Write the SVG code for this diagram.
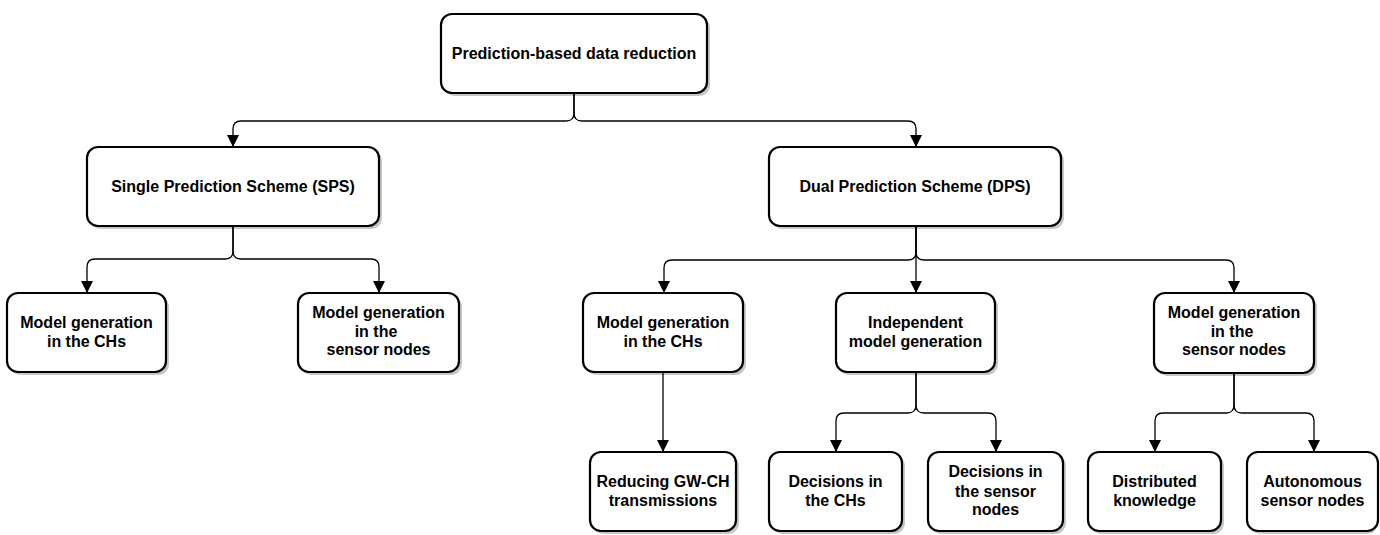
<svg xmlns="http://www.w3.org/2000/svg" width="1380" height="535" viewBox="0 0 1380 535">
<style>
.box{fill:#fff;stroke:#000;stroke-width:2.2}
.sh{fill:#000;opacity:0.22}
.t{font-family:"Liberation Sans",Arial,Helvetica,sans-serif;font-weight:bold;font-size:16px;fill:#000;text-anchor:middle}
.c{fill:none;stroke:#000;stroke-width:1.3}
</style>
<defs>
<marker id="ah" markerUnits="userSpaceOnUse" markerWidth="12" markerHeight="12" refX="10" refY="5" orient="auto" viewBox="0 0 10 10">
<path d="M0,0 L10,5 L0,10 Z" fill="#000"/>
</marker>
</defs>
<rect width="1380" height="535" fill="#fff"/>
<g id="connectors">
<path class="c" marker-end="url(#ah)" d="M574,93 V113 Q574,121 566,121 H241 Q233,121 233,129 V147"/>
<path class="c" marker-end="url(#ah)" d="M574,93 V113 Q574,121 582,121 H908 Q916,121 916,129 V147"/>
<path class="c" marker-end="url(#ah)" d="M233,226 V251 Q233,259 225,259 H95 Q87,259 87,267 V293"/>
<path class="c" marker-end="url(#ah)" d="M233,226 V251 Q233,259 241,259 H371 Q379,259 379,267 V293"/>
<path class="c" marker-end="url(#ah)" d="M916,226 V252 Q916,260 908,260 H672 Q664,260 664,268 V293"/>
<path class="c" marker-end="url(#ah)" d="M916,226 V293"/>
<path class="c" marker-end="url(#ah)" d="M916,226 V252 Q916,260 924,260 H1226 Q1234,260 1234,268 V293"/>
<path class="c" marker-end="url(#ah)" d="M663,372 V452"/>
<path class="c" marker-end="url(#ah)" d="M916,372 V405 Q916,413 908,413 H844 Q836,413 836,421 V452"/>
<path class="c" marker-end="url(#ah)" d="M916,372 V405 Q916,413 924,413 H988 Q996,413 996,421 V452"/>
<path class="c" marker-end="url(#ah)" d="M1234,373 V405 Q1234,413 1226,413 H1163 Q1155,413 1155,421 V452"/>
<path class="c" marker-end="url(#ah)" d="M1234,373 V405 Q1234,413 1242,413 H1306 Q1314,413 1314,421 V452"/>
</g>
<g id="n-root">
<rect class="sh" x="444" y="17" width="266" height="79" rx="11"/>
<rect class="box" x="441" y="14" width="266" height="79" rx="11"/>
<text class="t" x="574" y="59">Prediction-based data reduction</text>
</g>
<g id="n-sps">
<rect class="sh" x="90" y="150" width="292" height="79" rx="11"/>
<rect class="box" x="87" y="147" width="292" height="79" rx="11"/>
<text class="t" x="233" y="192">Single Prediction Scheme (SPS)</text>
</g>
<g id="n-dps">
<rect class="sh" x="772" y="150" width="292" height="79" rx="11"/>
<rect class="box" x="769" y="147" width="292" height="79" rx="11"/>
<text class="t" x="915" y="192">Dual Prediction Scheme (DPS)</text>
</g>
<g id="n-sps-ch">
<rect class="sh" x="10" y="296" width="159" height="79" rx="11"/>
<rect class="box" x="7" y="293" width="159" height="79" rx="11"/>
<text class="t" x="86.5" y="328">Model generation</text>
<text class="t" x="86.5" y="347">in the CHs</text>
</g>
<g id="n-sps-sn">
<rect class="sh" x="301" y="296" width="161" height="79" rx="11"/>
<rect class="box" x="298" y="293" width="161" height="79" rx="11"/>
<text class="t" x="378.5" y="318">Model generation</text>
<text class="t" x="376" y="337">in the</text>
<text class="t" x="378.5" y="355">sensor nodes</text>
</g>
<g id="n-dps-ch">
<rect class="sh" x="586" y="296" width="160" height="79" rx="11"/>
<rect class="box" x="583" y="293" width="160" height="79" rx="11"/>
<text class="t" x="663" y="328">Model generation</text>
<text class="t" x="663" y="347">in the CHs</text>
</g>
<g id="n-dps-ind">
<rect class="sh" x="839" y="296" width="159" height="79" rx="11"/>
<rect class="box" x="836" y="293" width="159" height="79" rx="11"/>
<text class="t" x="915.5" y="328">Independent</text>
<text class="t" x="915.5" y="347">model generation</text>
</g>
<g id="n-dps-sn">
<rect class="sh" x="1157" y="296" width="160" height="80" rx="11"/>
<rect class="box" x="1154" y="293" width="160" height="80" rx="11"/>
<text class="t" x="1234" y="318">Model generation</text>
<text class="t" x="1232" y="337">in the</text>
<text class="t" x="1234" y="355">sensor nodes</text>
</g>
<g id="n-gwch">
<rect class="sh" x="593" y="455" width="146" height="79" rx="11"/>
<rect class="box" x="590" y="452" width="146" height="79" rx="11"/>
<text class="t" x="663" y="487">Reducing GW-CH</text>
<text class="t" x="663" y="506">transmissions</text>
</g>
<g id="n-dec-ch">
<rect class="sh" x="772" y="455" width="133" height="79" rx="11"/>
<rect class="box" x="769" y="452" width="133" height="79" rx="11"/>
<text class="t" x="835.5" y="487">Decisions in</text>
<text class="t" x="835.5" y="506">the CHs</text>
</g>
<g id="n-dec-sn">
<rect class="sh" x="931" y="455" width="135" height="79" rx="11"/>
<rect class="box" x="928" y="452" width="135" height="79" rx="11"/>
<text class="t" x="995.5" y="477">Decisions in</text>
<text class="t" x="995.5" y="497">the sensor</text>
<text class="t" x="995.5" y="515">nodes</text>
</g>
<g id="n-dist">
<rect class="sh" x="1091" y="455" width="133" height="79" rx="11"/>
<rect class="box" x="1088" y="452" width="133" height="79" rx="11"/>
<text class="t" x="1154.5" y="487">Distributed</text>
<text class="t" x="1154.5" y="506">knowledge</text>
</g>
<g id="n-auto">
<rect class="sh" x="1250" y="455" width="128" height="79" rx="11"/>
<rect class="box" x="1247" y="452" width="131" height="79" rx="11"/>
<text class="t" x="1312.5" y="487">Autonomous</text>
<text class="t" x="1312.5" y="506">sensor nodes</text>
</g>
</svg>
